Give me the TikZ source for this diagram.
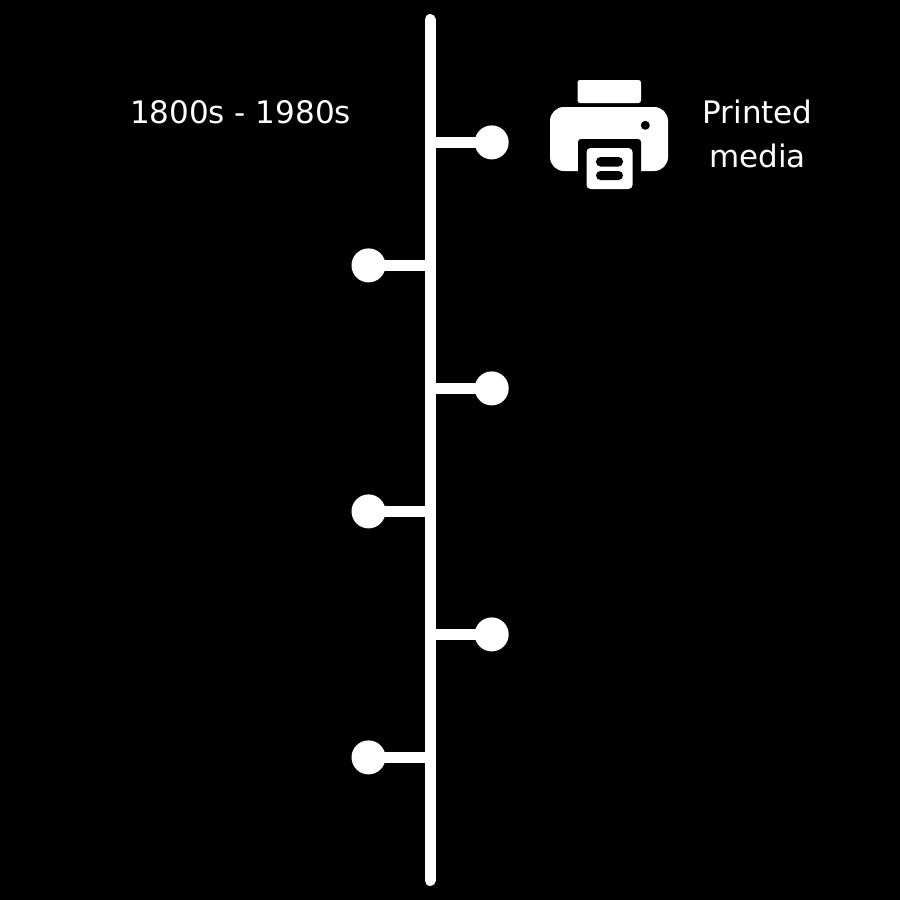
\documentclass[tikz,border=0pt]{standalone}
\usepackage{fontspec}
\setmainfont{DejaVu Sans}
\tikzset{
  dotnode/.style={circle,fill=white,draw=none,minimum size=34pt,inner sep=0pt},
  linework/.style={draw=white,line width=11pt},
  label/.style={text=white,font=\fontsize{31}{44}\selectfont,inner sep=0pt,align=center},
}
\begin{document}
\begin{tikzpicture}[x=1pt,y=-1pt]
\useasboundingbox[fill=black] (0,0) rectangle (900,900);
% spine
\coordinate (top) at (430,19.5);
\coordinate (bot) at (430,880.5);
\draw[linework,line cap=round] (top) -- (bot);
% branches
\foreach \n/\x/\y/\s in {a/491.7/142.4/425,b/368.5/265.4/435,c/491.7/388.4/425,d/368.5/511.4/435,e/491.7/634.4/425,f/368.5/757.4/435}{
  \node[dotnode] (\n) at (\x,\y) {};
  \coordinate (\n s) at (\s,\y);
  \draw[linework] (\n s) -- (\n.center);
}
% labels
\node[label] (date) at (240.5,112.5) {1800s - 1980s};
\node[label] (media) at (757.5,134) {Printed\\media};
% printer icon
\fill[white,rounded corners=2.5pt] (577.5,103) -- (577.5,80) -- (641,80) -- (641,103) -- cycle;
\fill[white,rounded corners=14pt] (550,171) -- (550,107) -- (668,107) -- (668,171) -- cycle;
\fill[black,rounded corners=3pt] (578,180) -- (578,139) -- (641,139) -- (641,180) -- cycle;
\fill[white,rounded corners=4pt] (586.5,148) -- (632.5,148) -- (632.5,189) -- (586.5,189) -- cycle;
\fill[black,rounded corners=4.5pt] (596,157) rectangle (623,166.5);
\fill[black,rounded corners=4.5pt] (596,171) rectangle (623,180);
\fill[black] (645.3,125.3) circle (4.5);
\end{tikzpicture}
\end{document}
